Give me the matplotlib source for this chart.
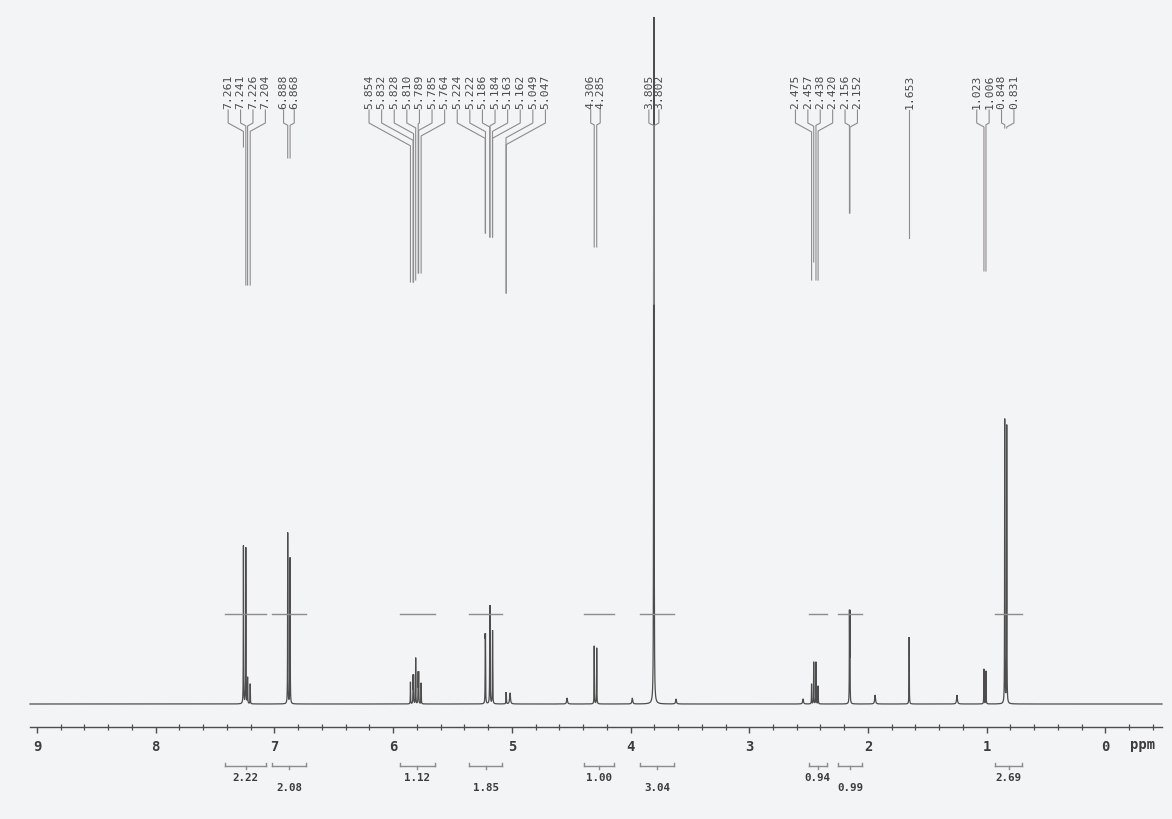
import numpy as np
import matplotlib
matplotlib.use("Agg")
import matplotlib.pyplot as plt

# ---------------------------------------------------------------------------
# 1H NMR (400 MHz) resonances: position (ppm), line intensity, half-width (ppm)
# ---------------------------------------------------------------------------
peak_ppm = [7.261, 7.241, 7.226, 7.204, 6.888, 6.868,
            5.854, 5.832, 5.828, 5.810, 5.789, 5.785, 5.764,
            5.224, 5.222, 5.186, 5.184, 5.163, 5.162, 5.049, 5.047, 5.015,
            4.535, 4.306, 4.285, 3.985, 3.805, 3.802, 3.617,
            2.547, 2.475, 2.457, 2.438, 2.420, 2.156, 2.152,
            1.940, 1.653, 1.250, 1.023, 1.006, 0.848, 0.831]
peak_height = [158, 156, 26, 20, 171, 146,
               22, 27, 27, 46, 30, 30, 21,
               55, 55, 77, 77, 43, 43, 9, 9, 11,
               6, 58, 56, 6, 603, 603, 5,
               5, 20, 42, 42, 18, 87, 87,
               9, 67, 9, 35, 33, 284, 278]
peak_width = [0.0012] * len(peak_ppm)
for broad in (4.535, 3.985, 3.617, 2.547, 1.940, 1.250, 5.015):
    peak_width[peak_ppm.index(broad)] = 0.004

# Peak-picking groups (labels printed above the spectrum)
pick_groups = [[7.261, 7.241, 7.226, 7.204],
               [6.888, 6.868],
               [5.854, 5.832, 5.828, 5.810, 5.789, 5.785, 5.764,
                5.224, 5.222, 5.186, 5.184, 5.163, 5.162, 5.049, 5.047],
               [4.306, 4.285],
               [3.805, 3.802],
               [2.475, 2.457, 2.438, 2.420, 2.156, 2.152],
               [1.653],
               [1.023, 1.006, 0.848, 0.831]]
# lower end of each pick marker line (intensity units)
pick_marker_end = [[557, 419, 419, 419],
                   [546, 546],
                   [422, 422, 422, 424, 431, 431, 431,
                    471, 471, 467, 467, 467, 467, 411, 411],
                   [457, 457],
                   [400, 400],
                   [424, 442, 424, 424, 491, 491],
                   [466],
                   [433, 433, 576, 576]]
pick_spacing = [12.4, 10.7, 12.6, 9.5, 10.0, 12.4, 12.4, 12.4]

# Integration regions (ppm) and integral values
integral_from = [7.416, 7.020, 5.940, 5.360, 4.390, 3.920, 2.500, 2.250, 0.930]
integral_to = [7.070, 6.730, 5.650, 5.080, 4.140, 3.630, 2.345, 2.050, 0.700]
integral_value = ["2.22", "2.08", "1.12", "1.85", "1.00", "3.04", "0.94", "0.99", "2.69"]

major_ticks = [0, 1, 2, 3, 4, 5, 6, 7, 8, 9]
minor_ticks = np.round(np.arange(-0.4, 9.01, 0.2), 1)

# ---------------------------------------------------------------------------
W, H, DPI = 1172, 819, 100
PX_PER_PPM = 118.7
X_LEFT, X_RIGHT = 9.059, -0.477

fig = plt.figure(figsize=(W / DPI, H / DPI), dpi=DPI, facecolor="#f3f4f6")
ax = fig.add_axes([30 / W, (H - 727) / H, 1132 / W, 727 / H])
ax.set_facecolor("none")
ax.set_xlim(X_LEFT, X_RIGHT)
ax.set_ylim(-23, 704)

ink = "#4d4d4d"
soft = "#8c8c8c"
mono = "DejaVu Sans Mono"

# spectrum as a sum of Lorentzian lines
x = np.arange(X_LEFT, X_RIGHT, -0.0001)
y = np.zeros_like(x)
for p, h, w in zip(peak_ppm, peak_height, peak_width):
    y += h * w ** 2 / ((x - p) ** 2 + w ** 2)
ax.plot(x, y, color=ink, lw=0.9, solid_joinstyle="miter", clip_on=False)

# ppm axis
for s in ("top", "left", "right"):
    ax.spines[s].set_visible(False)
ax.spines["bottom"].set_color(ink)
ax.spines["bottom"].set_linewidth(1.0)
ax.set_yticks([])
ax.set_xticks(major_ticks)
ax.set_xticklabels([str(t) for t in major_ticks])
ax.set_xticks(minor_ticks, minor=True)
ax.tick_params(axis="x", which="major", direction="out", length=4.6, width=1.0,
               color=ink, pad=5, labelsize=10, labelcolor="#3c3c3c")
ax.tick_params(axis="x", which="minor", direction="inout", length=4.0, width=0.9,
               color=ink)
for lab in ax.get_xticklabels():
    lab.set_fontfamily(mono)
    lab.set_fontweight("bold")
ax.text(1143 / W, (H - 745) / H, "ppm", transform=fig.transFigure, ha="center",
        va="center", fontsize=10, fontweight="bold", family=mono, color="#3c3c3c")

# integral markers on the spectrum and brackets below the axis
for i, (a, b, v) in enumerate(zip(integral_from, integral_to, integral_value)):
    ax.plot([a, b], [90, 90], color=soft, lw=1.0, clip_on=False)
    yb = -62
    ax.plot([a, b], [yb, yb], color=soft, lw=1.0, clip_on=False)
    ax.plot([a, a], [yb, yb + 3], color=soft, lw=1.0, clip_on=False)
    ax.plot([b, b], [yb, yb + 3], color=soft, lw=1.0, clip_on=False)
    mid = (a + b) / 2
    ax.plot([mid, mid], [yb, yb - 3], color=soft, lw=1.0, clip_on=False)
    ax.text(mid, -74 if i % 2 == 0 else -84, v, ha="center", va="center",
            fontsize=7.8, family=mono, fontweight="bold", color="#3c3c3c",
            clip_on=False)

# peak-picking labels with connector lines
LABEL_BASE = 595
STUB_END = 581
for group, ends, sp in zip(pick_groups, pick_marker_end, pick_spacing):
    centre = np.mean(group)
    step = sp / PX_PER_PPM
    n = len(group)
    for k, (p, yend) in enumerate(zip(group, ends)):
        lx = centre + ((n - 1) / 2 - k) * step
        ax.text(lx, LABEL_BASE, f"{p:.3f}", rotation=90, ha="center", va="bottom",
                fontsize=8.2, family=mono, color="#4a4a4a", clip_on=False)
        dy = 0.55 * abs(lx - p) * PX_PER_PPM
        ax.plot([lx, lx, p, p], [LABEL_BASE - 1, STUB_END, STUB_END - dy, yend],
                color=soft, lw=0.8, clip_on=False)

fig.savefig("out.png", dpi=DPI, facecolor=fig.get_facecolor())
